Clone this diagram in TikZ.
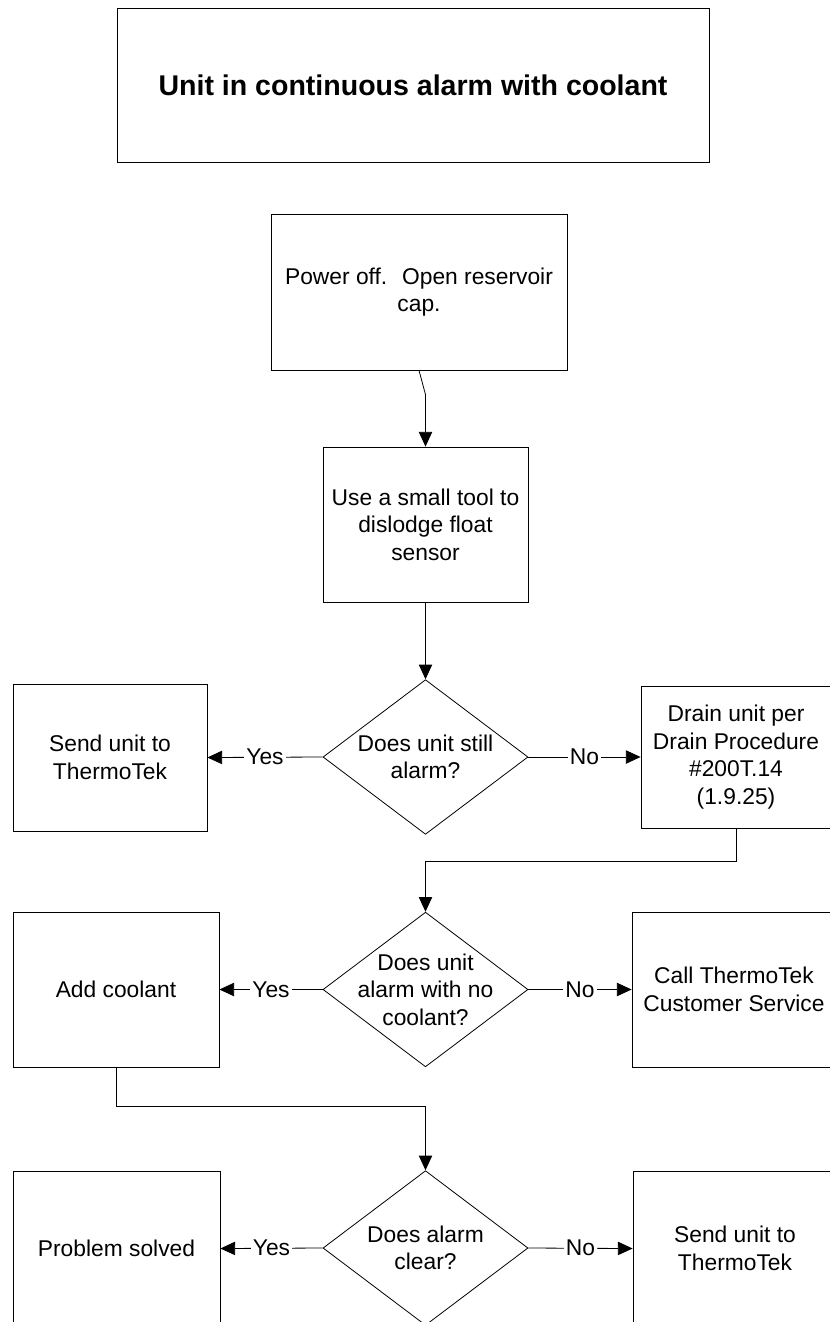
\documentclass[tikz,border=0pt]{standalone}
\usepackage{fontspec}
\setmainfont{Liberation Sans}
\usepackage{tikz}
\usetikzlibrary{shapes,calc,positioning,arrows.meta}

\begin{document}
\begin{tikzpicture}[x=0.75pt, y=-0.75pt]
        \tikzset{>={Triangle[length=11pt,width=10pt]}}
        \tikzstyle{arr} = [line width=0.6pt],
        \tikzstyle{process} = [shape=rectangle, align=center, draw, line width=0.6pt, inner sep=0pt, font=\fontsize{17.1}{20.6}\selectfont],
        \tikzstyle{decision} = [shape=diamond, draw, line width=0.6pt, inner sep=0pt, minimum width=153.75pt, minimum height=116pt],
        \tikzstyle{lbl} = [fill=white, inner sep=1.5pt, font=\fontsize{17.1}{20.6}\selectfont],
        \tikzstyle{dtext} = [align=center, font=\fontsize{17.1}{20.6}\selectfont],
        \useasboundingbox (0,0) rectangle (830,1322);

        \node [process, name=title, minimum width=444pt, minimum height=115.5pt, font=\bfseries\fontsize{21.4}{25}\selectfont] at (413,85) {Unit in continuous alarm with coolant};
        \node [process, name=power, minimum width=222pt, minimum height=117pt] at (419,292) {Power off.~ Open reservoir\\cap.};
        \node [process, name=tool, minimum width=153.75pt, minimum height=116.25pt] at (425.5,524.5) {Use a small tool to\\dislodge float\\sensor};

        % first question
        \node [decision, name=still, label={[dtext]center:Does unit still\\alarm?}] at (425.5,757) {};
        \node [process, name=sendA, minimum width=145.5pt, minimum height=110.25pt] at (110,757.5) {Send unit to\\ThermoTek};
        \node [process, name=drain, minimum width=142.5pt, minimum height=106.5pt] at (736,757) {Drain unit per\\Drain Procedure\\\#200T.14\\(1.9.25)};

        % second question
        \node [decision, name=empty, label={[dtext]center:Does unit\\alarm with no\\coolant?}] at (425.5,989.5) {};
        \node [process, name=add, minimum width=154.5pt, minimum height=116.25pt] at (116,989.5) {Add coolant};
        \node [process, name=call, minimum width=153pt, minimum height=116.25pt] at (734,989.5) {Call ThermoTek\\Customer Service};

        % third question
        \node [decision, name=clear, label={[dtext]center:Does alarm\\clear?}] at (425.5,1248) {};
        \node [process, name=solved, minimum width=155.25pt, minimum height=116.25pt] at (116.5,1248.5) {Problem solved};
        \node [process, name=sendB, minimum width=153pt, minimum height=116.25pt] at (735,1248.5) {Send unit to\\ThermoTek};

        % arrows
        \draw [arr,->] (power.south) -- ($(tool.north)+(0,-52)$) -- (tool.north);
        \draw [arr,->] (tool.south) -- (still.north);
        \draw [arr,->] (still.west) -- node [lbl] {Yes} (sendA.east);
        \draw [arr,->] (still.east) -- node [lbl] {No} (drain.west);
        \draw [arr,->] (drain.south) -- ++(0,33) -| (empty.north);
        \draw [arr,->] (empty.west) -- node [lbl] {Yes} (add.east);
        \draw [arr,->] (empty.east) -- node [lbl] {No} (call.west);
        \draw [arr,->] (add.south) -- ++(0,39) -| (clear.north);
        \draw [arr,->] (clear.west) -- node [lbl] {Yes} (solved.east);
        \draw [arr,->] (clear.east) -- node [lbl] {No} (sendB.west);

\end{tikzpicture}
\end{document}
